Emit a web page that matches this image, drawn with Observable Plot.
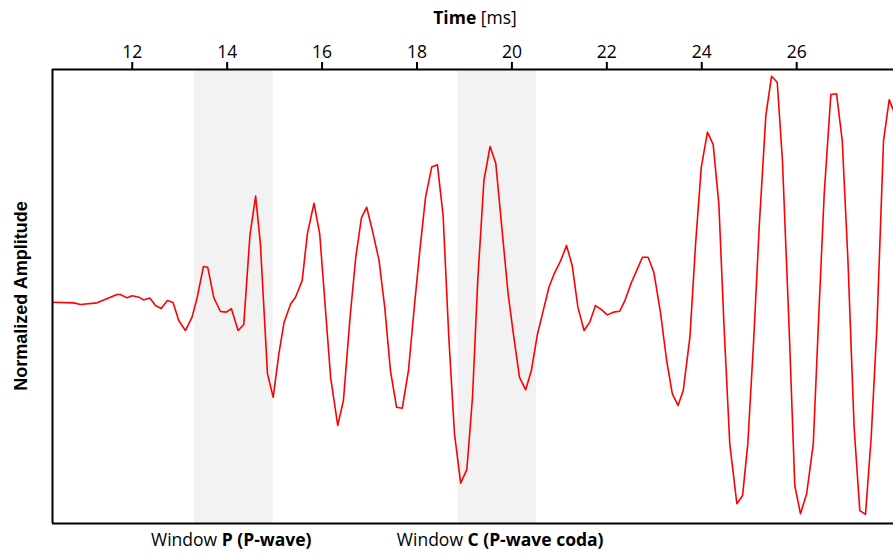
<!DOCTYPE html>
<html><head><meta charset="utf-8">
<script src="https://cdn.jsdelivr.net/npm/d3@7"></script>
<script src="https://cdn.jsdelivr.net/npm/@observablehq/plot@0.6"></script>
<style>body{margin:0;background:#fff} svg{display:block}</style>
</head><body><div id="chart"></div>
<script>
const time = [10.32,10.77,10.91,11.26,11.68,11.75,11.89,12.00,12.14,12.24,
12.37,12.49,12.61,12.74,12.86,12.98,13.12,13.26,13.37,13.50,
13.59,13.72,13.86,13.98,14.09,14.23,14.35,14.48,14.60,14.70,
14.85,14.97,15.09,15.20,15.34,15.44,15.58,15.69,15.83,15.95,
16.18,16.33,16.45,16.59,16.71,16.83,16.94,17.06,17.20,17.32,
17.44,17.57,17.69,17.82,17.95,18.06,18.18,18.31,18.43,18.55,
18.67,18.79,18.92,19.05,19.17,19.28,19.41,19.54,19.66,19.78,
19.92,20.03,20.16,20.29,20.41,20.54,20.66,20.78,20.89,21.03,
21.15,21.27,21.39,21.52,21.64,21.76,21.88,22.01,22.14,22.27,
22.38,22.52,22.63,22.75,22.87,22.99,23.13,23.26,23.38,23.50,
23.61,23.75,23.87,23.99,24.12,24.24,24.36,24.47,24.59,24.74,
24.86,24.97,25.09,25.21,25.35,25.47,25.59,25.70,25.84,25.96,
26.08,26.21,26.35,26.47,26.58,26.72,26.84,26.96,27.08,27.21,
27.33,27.45,27.57,27.69,27.83,27.95,28.04,28.15];
const amplitude = [-0.025,-0.028,-0.035,-0.028,0.009,0.009,-0.006,0.003,-0.003,-0.015,
-0.007,-0.040,-0.053,-0.018,-0.026,-0.106,-0.150,-0.091,-0.003,0.132,
0.129,-0.006,-0.066,-0.069,-0.054,-0.150,-0.123,0.269,0.442,0.233,
-0.341,-0.444,-0.252,-0.113,-0.032,-0.003,0.070,0.276,0.411,0.276,
-0.356,-0.568,-0.458,-0.091,0.173,0.347,0.393,0.291,0.159,-0.047,
-0.326,-0.488,-0.492,-0.326,-0.032,0.203,0.437,0.570,0.580,0.357,
-0.179,-0.605,-0.822,-0.763,-0.444,0.070,0.511,0.661,0.587,0.320,
0.012,-0.164,-0.356,-0.411,-0.326,-0.164,-0.062,0.041,0.100,0.159,
0.225,0.137,-0.047,-0.150,-0.113,-0.040,-0.057,-0.081,-0.069,-0.065,
-0.018,0.063,0.115,0.173,0.173,0.107,-0.070,-0.282,-0.429,-0.480,
-0.414,-0.179,0.232,0.570,0.724,0.670,0.408,-0.135,-0.649,-0.913,
-0.877,-0.649,-0.208,0.305,0.797,0.970,0.944,0.599,-0.135,-0.833,
-0.957,-0.869,-0.649,-0.062,0.452,0.890,0.893,0.687,0.159,-0.576,
-0.943,-0.960,-0.620,-0.135,0.687,0.867,0.819,0.650];

const windowNames = ["P", "C"];
const windowDesc = ["(P-wave)", "(P-wave coda)"];
const windowStart = [13.31, 18.86];
const windowEnd = [14.97, 20.52];
const xTicks = [12, 14, 16, 18, 20, 22, 24, 26];
const xDomain = [10.32, 28.04];

const wave = time.map((t, i) => ({t, a: amplitude[i]}));
const windows = windowNames.map((n, i) => ({name: n, start: windowStart[i], end: windowEnd[i]}));

const chart = Plot.plot({
  width: 893, height: 556,
  marginTop: 69, marginBottom: 33, marginLeft: 52, marginRight: 0,
  style: {fontFamily: "Open Sans", color: "black", background: "white", overflow: "visible"},
  x: {domain: xDomain},
  y: {domain: [-1, 1], axis: null},
  marks: [
    Plot.rect(windows, {x1: "start", x2: "end", fill: "#f2f2f2"}),
    Plot.line(wave, {x: "t", y: "a", stroke: "#ff0000", strokeWidth: 1.6, clip: true}),
    Plot.ruleY([-1, 1], {stroke: "black", strokeWidth: 2}),
    Plot.ruleX([xDomain[0]], {stroke: "black", strokeWidth: 2}),
    Plot.axisX(xTicks, {anchor: "top", tickSize: 8, tickPadding: 4, fontSize: 17.5, strokeWidth: 2, label: null, tickFormat: d => String(d)})
  ]
});

const xs = chart.scale("x");
const ys = chart.scale("y");
const svg = d3.select(chart);
const title = svg.append("text").attr("x", 475).attr("y", 24).attr("text-anchor", "middle")
  .attr("font-family", "Open Sans").attr("font-size", 17.5).attr("fill", "black");
title.append("tspan").attr("font-weight", "bold").text("Time");
title.append("tspan").text(" [ms]");

const yMid = (ys.apply(-1) + ys.apply(1)) / 2;
svg.append("text").attr("transform", `translate(27,${yMid}) rotate(-90)`)
  .attr("text-anchor", "middle").attr("font-family", "Liberation Sans").attr("font-weight", "bold")
  .attr("font-size", 18).attr("fill", "black").text("Normalized Amplitude");

windowNames.forEach((n, i) => {
  const cx = (xs.apply(windowStart[i]) + xs.apply(windowEnd[i])) / 2 + (i === 0 ? -2 : 3.5);
  const t = svg.append("text").attr("x", cx).attr("y", 546).attr("text-anchor", "middle")
    .attr("font-family", "Open Sans").attr("font-size", 17.5).attr("fill", "black");
  t.append("tspan").text("Window ");
  t.append("tspan").attr("font-weight", "bold").text(n + " " + windowDesc[i]);
});

document.getElementById("chart").appendChild(chart);
</script>
</body></html>
